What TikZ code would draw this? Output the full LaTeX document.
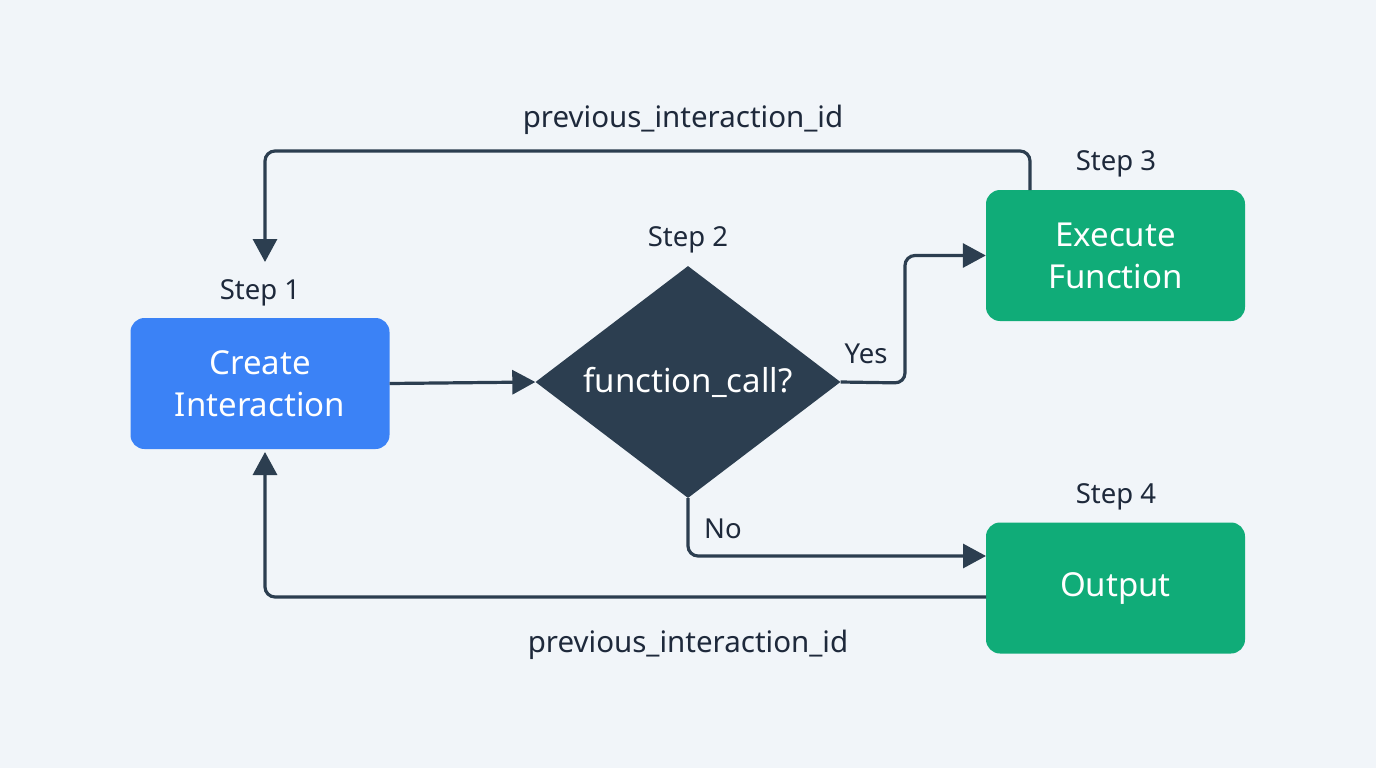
\documentclass[tikz,border=0pt]{standalone}
\usepackage{fontspec}
\setmainfont{Noto Sans}
\usetikzlibrary{arrows.meta,shapes.geometric}
\definecolor{bg}{HTML}{F1F5F9}
\definecolor{blueb}{HTML}{3B82F6}
\definecolor{greenb}{HTML}{10AC78}
\definecolor{dark}{HTML}{2C3E50}
\definecolor{txt}{HTML}{1E293B}
\begin{document}
\begin{tikzpicture}[x=1pt,y=-1pt,
 box/.style={rounded corners=14pt, minimum width=259pt, minimum height=131pt, text=white, font=\fontsize{33}{42}\selectfont, align=center, inner sep=0pt},
 lbl/.style={text=txt, font=\fontsize{27.5}{30}\selectfont, inner sep=0pt, anchor=base},
 plbl/.style={lbl, font=\fontsize{29.5}{32}\selectfont},
 arr/.style={draw=dark, line width=3.2pt, rounded corners=10pt, -{Triangle[length=23pt,width=24pt]}},
]
\fill[bg] (0,0) rectangle (1376,768);
\useasboundingbox (0,0) rectangle (1376,768);
\node[box, fill=blueb] (create) at (260,383.5) {Create\\Interaction};
\node[draw=none, fill=dark, diamond, aspect=1.31, minimum width=305pt, minimum height=232pt, inner sep=0pt, text=white, font=\fontsize{33}{36}\selectfont] (dec) at (688,382) {function\_call?};
\node[box, fill=greenb] (exec) at (1115.5,255.5) {Execute\\Function};
\node[box, fill=greenb] (out) at (1115.5,588) {Output};
\node[lbl] (s1) at (260,299) {Step 1};
\node[lbl] (s2) at (688,246) {Step 2};
\node[lbl] (s3) at (1116,170) {Step 3};
\node[lbl] (s4) at (1116,503) {Step 4};
\node[plbl] (ptop) at (683,127) {previous\_interaction\_id};
\node[plbl] (pbot) at (688,652) {previous\_interaction\_id};
\node[lbl] (yes) at (866,363) {Yes};
\node[lbl] (no) at (723,538) {No};
\coordinate (ybend) at (905,383);
\coordinate (ttop) at (1030,151);
\coordinate (tend) at (265,262);
\coordinate (bend) at (265,452);
\coordinate (bstart) at (986,597);
\coordinate (ostart) at (1030,190);
\coordinate (nin) at (986,556);
\draw[arr] (create.east) -- (dec.west);
\draw[arr] (dec.east) -- (ybend) |- (exec.west);
\draw[arr] (dec.south) |- (nin);
\draw[arr] (ostart) -- (ttop) -| (tend);
\draw[arr] (bstart) -| (bend);
\end{tikzpicture}
\end{document}
